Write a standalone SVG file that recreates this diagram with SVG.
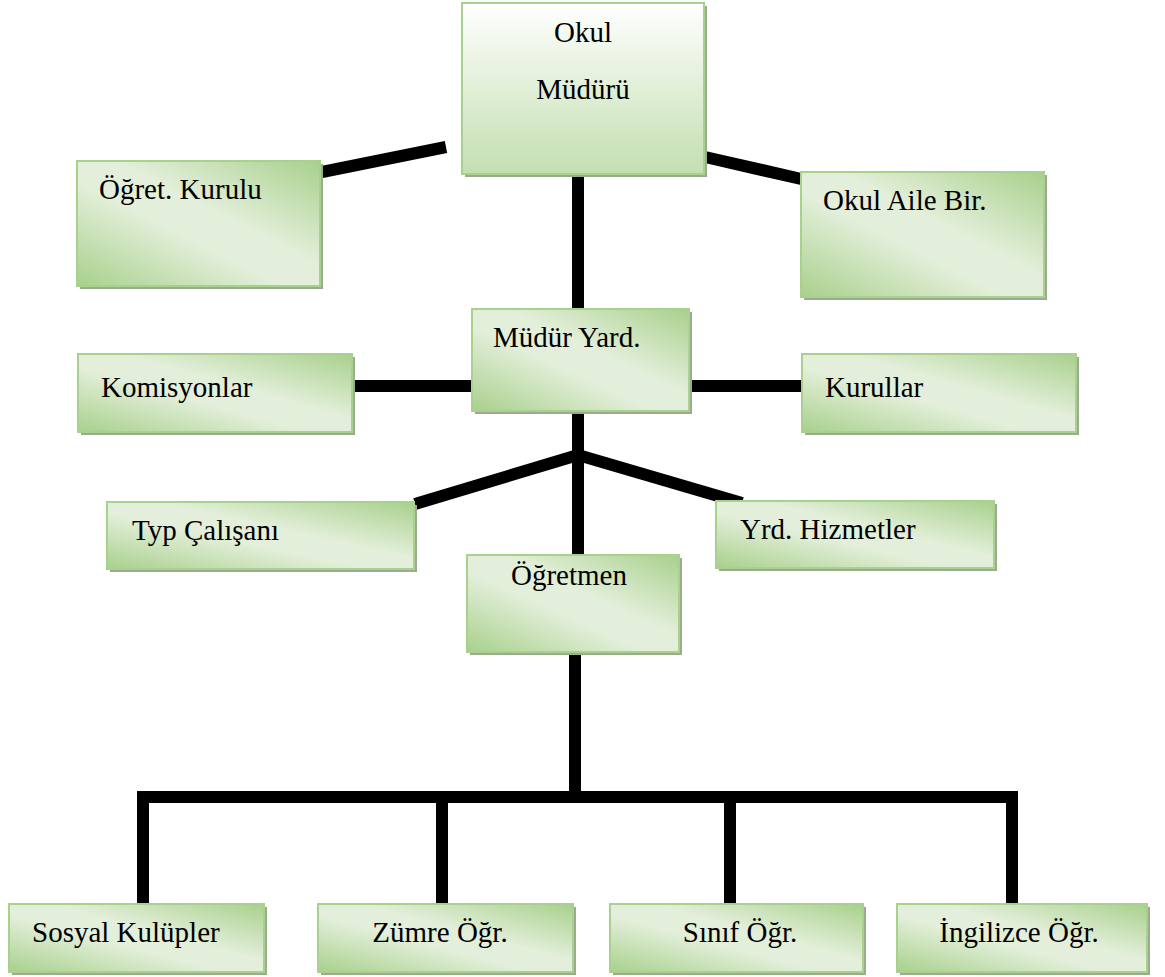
<svg xmlns="http://www.w3.org/2000/svg" width="1165" height="977" viewBox="0 0 1165 977">
<defs>
<linearGradient id="gDiag" x1="1" y1="0" x2="0" y2="1">
<stop offset="0" stop-color="#a8d08c"/>
<stop offset="0.42" stop-color="#e3efda"/>
<stop offset="0.58" stop-color="#e3efda"/>
<stop offset="1" stop-color="#a8d08c"/>
</linearGradient>
<linearGradient id="gVert" x1="0" y1="0" x2="0" y2="1">
<stop offset="0" stop-color="#ffffff"/>
<stop offset="1" stop-color="#c3dfb0"/>
</linearGradient>
<style>
.box{fill:url(#gDiag);stroke:#a9d18e;stroke-width:2}
.boxv{fill:url(#gVert);stroke:#a9d18e;stroke-width:2}
.sh{fill:#9caa8f}
.t{font-family:"Liberation Serif","Times New Roman",serif;font-size:29px;fill:#000}
.c{stroke:#000;stroke-width:12;fill:none;stroke-linecap:butt}
</style>
</defs>
<g id="connectors">
<line class="c" x1="322" y1="172" x2="446" y2="147"/>
<line class="c" x1="705" y1="157" x2="810" y2="181"/>
<line class="c" x1="578" y1="174" x2="578" y2="309"/>
<line class="c" x1="355" y1="386" x2="472" y2="386"/>
<line class="c" x1="690" y1="386" x2="802" y2="386"/>
<line class="c" x1="578" y1="411" x2="578" y2="555"/>
<line class="c" x1="578" y1="455" x2="415" y2="504"/>
<line class="c" x1="578" y1="455" x2="742" y2="503"/>
<line class="c" x1="575" y1="652" x2="575" y2="803"/>
<polyline class="c" points="143,904 143,797 1012,797 1012,904"/>
<line class="c" x1="442" y1="797" x2="442" y2="904"/>
<line class="c" x1="730" y1="797" x2="730" y2="904"/>
</g>
<g id="n-okul-muduru">
<rect class="sh" x="465" y="6" width="242" height="171"/>
<rect class="boxv" x="462" y="3" width="242" height="171"/>
<text class="t" x="583" y="42" text-anchor="middle">Okul</text>
<text class="t" x="583" y="99" text-anchor="middle">Müdürü</text>
</g>
<g id="n-ogret-kurulu">
<rect class="sh" x="80" y="164" width="243" height="125"/>
<rect class="box" x="77" y="161" width="243" height="125"/>
<text class="t" x="99" y="199">Öğret. Kurulu</text>
</g>
<g id="n-okul-aile">
<rect class="sh" x="804" y="175" width="243" height="125"/>
<rect class="box" x="801" y="172" width="243" height="125"/>
<text class="t" x="823" y="210">Okul Aile Bir.</text>
</g>
<g id="n-mudur-yard">
<rect class="sh" x="475" y="312" width="217" height="102"/>
<rect class="box" x="472" y="309" width="217" height="102"/>
<text class="t" x="493" y="347">Müdür Yard.</text>
</g>
<g id="n-komisyonlar">
<rect class="sh" x="81" y="357" width="274" height="78"/>
<rect class="box" x="78" y="354" width="274" height="78"/>
<text class="t" x="101" y="397">Komisyonlar</text>
</g>
<g id="n-kurullar">
<rect class="sh" x="805" y="357" width="274" height="78"/>
<rect class="box" x="802" y="354" width="274" height="78"/>
<text class="t" x="825" y="397">Kurullar</text>
</g>
<g id="n-typ">
<rect class="sh" x="110" y="505" width="307" height="67"/>
<rect class="box" x="107" y="502" width="307" height="67"/>
<text class="t" x="132" y="540">Typ Çalışanı</text>
</g>
<g id="n-yrd">
<rect class="sh" x="719" y="504" width="278" height="67"/>
<rect class="box" x="716" y="501" width="278" height="67"/>
<text class="t" x="740" y="539">Yrd. Hizmetler</text>
</g>
<g id="n-ogretmen">
<rect class="sh" x="470" y="558" width="212" height="97"/>
<rect class="box" x="467" y="555" width="212" height="97"/>
<text class="t" x="569" y="585" text-anchor="middle">Öğretmen</text>
</g>
<g id="n-sosyal">
<rect class="sh" x="12" y="907" width="255" height="68"/>
<rect class="box" x="9" y="904" width="255" height="68"/>
<text class="t" x="32" y="942">Sosyal Kulüpler</text>
</g>
<g id="n-zumre">
<rect class="sh" x="321" y="907" width="255" height="68"/>
<rect class="box" x="318" y="904" width="255" height="68"/>
<text class="t" x="440" y="942" text-anchor="middle">Zümre Öğr.</text>
</g>
<g id="n-sinif">
<rect class="sh" x="613" y="907" width="253" height="68"/>
<rect class="box" x="610" y="904" width="253" height="68"/>
<text class="t" x="740" y="942" text-anchor="middle">Sınıf Öğr.</text>
</g>
<g id="n-ingilizce">
<rect class="sh" x="900" y="907" width="250" height="68"/>
<rect class="box" x="897" y="904" width="250" height="68"/>
<text class="t" x="1019" y="942" text-anchor="middle">İngilizce Öğr.</text>
</g>
</svg>
